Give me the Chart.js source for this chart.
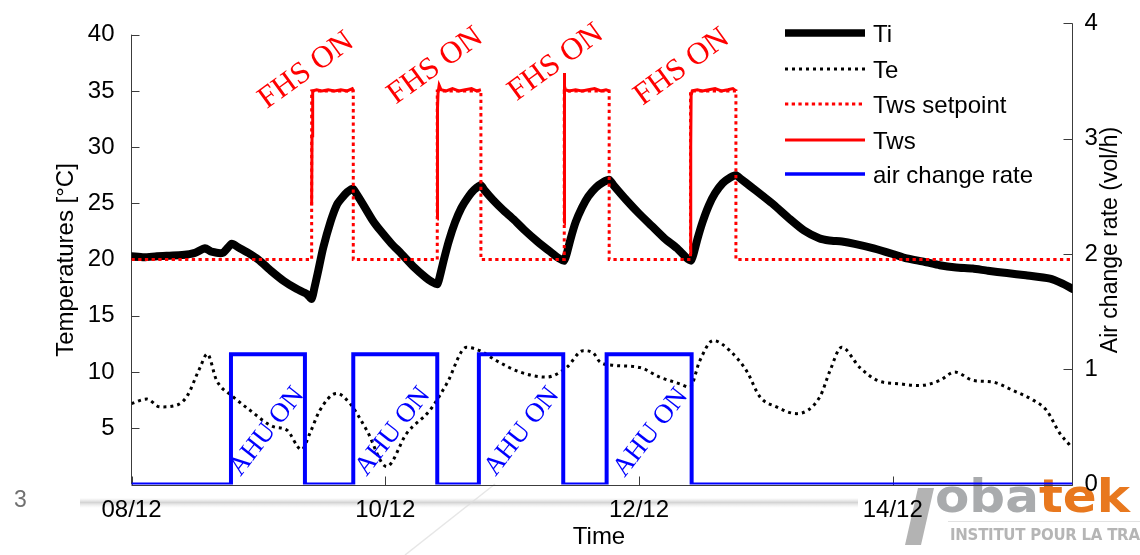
<!DOCTYPE html>
<html>
<head>
<meta charset="utf-8">
<script src="https://cdn.jsdelivr.net/npm/chart.js@4.4.1/dist/chart.umd.min.js"></script>
<style>
html,body{margin:0;padding:0;background:#fff;overflow:hidden}
canvas{display:block}
</style>
</head>
<body>
<canvas id="c" width="1140" height="555"></canvas>
<script>
// ---------- data (time in days since 08/12 00:00) ----------
const xTickDays   = [0, 2, 4, 6];
const xTickLabels = ['08/12', '10/12', '12/12', '14/12'];
const leftTicks   = [5, 10, 15, 20, 25, 30, 35, 40];
const rightTicks  = [0, 1, 2, 3, 4];
const seriesNames = ['Ti', 'Te', 'Tws setpoint', 'Tws', 'air change rate'];
const axisTitles  = {left: 'Temperatures [°C]', right: 'Air change rate (vol/h)', bottom: 'Time'};

const tiDays = [0.00,0.10,0.20,0.30,0.40,0.50,0.58,0.63,0.72,0.79,
                0.84,0.92,1.00,1.10,1.20,1.30,1.38,1.42,1.44,1.47,
                1.51,1.57,1.62,1.66,1.70,1.745,1.77,1.82,1.90,1.96,
                2.05,2.12,2.22,2.32,2.37,2.41,2.43,2.46,2.50,2.55,
                2.60,2.65,2.70,2.754,2.78,2.85,2.93,3.01,3.10,3.20,
                3.30,3.37,3.41,3.43,3.46,3.50,3.55,3.60,3.66,3.72,
                3.765,3.80,3.90,4.00,4.10,4.20,4.30,4.37,4.41,4.43,
                4.46,4.50,4.55,4.60,4.66,4.72,4.764,4.80,4.88,4.97,
                5.06,5.19,5.30,5.42,5.50,5.60,5.70,5.85,6.00,6.11,
                6.25,6.37,6.50,6.63,6.75,6.90,7.05,7.24,7.33,7.417];
const tiVals = [20.3,20.2,20.3,20.35,20.4,20.6,21.0,20.7,20.6,21.4,
                21.1,20.6,20.0,19.0,18.1,17.4,16.95,16.5,17.4,18.9,
                21.0,23.4,24.9,25.5,26.0,26.3,25.9,25.0,23.5,22.6,
                21.4,20.6,19.4,18.4,18.0,17.8,18.5,19.9,21.6,23.3,
                24.6,25.5,26.2,26.6,26.2,25.3,24.4,23.6,22.6,21.6,
                20.7,20.1,19.9,20.5,21.8,23.3,24.6,25.6,26.4,26.9,
                27.1,26.6,25.3,24.1,23.0,21.9,21.0,20.2,19.9,20.5,
                21.8,23.3,24.8,25.9,26.8,27.3,27.5,27.2,26.5,25.7,
                24.9,23.6,22.6,21.9,21.7,21.6,21.4,21.0,20.5,20.1,
                19.8,19.5,19.3,19.2,19.0,18.8,18.6,18.3,17.9,17.4];

const teDays = [0.00,0.12,0.225,0.356,0.435,0.54,0.597,0.671,0.802,0.934,
                1.117,1.223,1.341,1.406,1.485,1.617,1.722,1.853,2.011,2.169,
                2.352,2.484,2.641,2.746,2.878,3.062,3.272,3.429,3.56,3.639,
                3.692,3.797,4.007,4.164,4.322,4.401,4.479,4.585,4.716,4.848,
                4.953,5.084,5.242,5.426,5.505,5.597,5.741,5.879,6.056,6.213,
                6.371,6.489,6.634,6.791,6.949,7.107,7.212,7.317,7.396];
const teVals = [7.2,7.6,6.9,7.05,7.8,10.4,11.6,9.25,7.8,6.6,
                5.15,4.85,3.1,4.55,6.6,8.1,7.2,4.85,1.6,4.55,
                6.6,8.95,12.2,11.9,11.0,10.0,9.55,10.4,11.9,11.7,
                10.9,10.6,10.4,9.55,8.95,8.65,11.0,12.8,11.9,10.1,
                7.8,6.9,6.3,7.8,10.1,12.2,10.4,9.25,8.95,8.8,
                9.25,10.0,9.25,9.1,8.35,7.5,6.6,4.55,3.5];

const spDays = [0,1.42,1.42,1.748,1.748,2.41,2.41,2.754,2.754,3.411,
                3.411,3.765,3.765,4.406,4.406,4.764,4.764,7.417];
const spVals = [20,20,35,35,20,20,35,35,20,20,
                35,35,20,20,35,35,20,20];

const twsDays = [1.420,1.423,1.426,1.430,1.46,1.50,1.55,1.60,1.65,1.70,1.740,1.748,
                 2.0,
                 2.410,2.412,2.416,2.425,2.44,2.48,2.53,2.58,2.63,2.68,2.72,2.754,
                 3.0,
                 3.411,3.412,3.414,3.42,3.45,3.50,3.55,3.60,3.65,3.70,3.74,3.765,
                 4.0,
                 4.406,4.408,4.411,4.42,4.46,4.50,4.55,4.60,4.65,4.70,4.74,4.764];
const twsVals = [24.8,31.0,33.8,35.0,35.1,35.0,35.1,35.0,35.1,35.0,35.2,35.0,
                 null,
                 23.6,33.5,34.8,35.5,35.1,35.0,35.2,35.0,35.1,35.2,35.0,35.1,
                 null,
                 23.2,36.6,35.4,35.1,35.0,35.1,35.0,35.1,35.2,35.0,35.1,35.0,
                 null,
                 20.6,30.0,34.6,35.0,35.1,35.0,35.1,35.2,35.0,35.1,35.2,35.0];

const ahuDays = [0,0.784,0.784,1.367,1.367,1.748,1.748,2.41,2.41,2.738,
                 2.738,3.403,3.403,3.745,3.745,4.415,4.415,7.417];
const ahuVals = [0,0,1.13,1.13,0,0,1.13,1.13,0,0,
                 1.13,1.13,0,0,1.13,1.13,0,0];

// annotation anchors (days, left-axis °C / right-axis vol/h)
const fhsText = 'FHS ON';
const fhsLabelDays = [1.378, 2.394, 3.345, 4.338];
const fhsLabelVals = [36.8, 37.2, 37.5, 37.1];
const ahuText = 'AHU ON';
const ahuLabelDays = [1.068, 2.061, 3.078, 4.094];
const ahuLabelVals = [0.46, 0.46, 0.46, 0.45];

const pts = (xs, ys) => xs.map((x, i) => ({x: x, y: ys[i]}));

// ---------- plugin: axes, annotations, legend, slide decoration ----------
const SANS = '"Liberation Sans", Arial, Helvetica, sans-serif';
const SERIF = '"Liberation Serif", "Times New Roman", serif';

function seg(ctx, x1, y1, x2, y2) { ctx.beginPath(); ctx.moveTo(x1, y1); ctx.lineTo(x2, y2); ctx.stroke(); }

const deco = {
  id: 'deco',
  beforeDraw(chart) {
    const ctx = chart.ctx;
    ctx.save();
    ctx.fillStyle = '#fff';
    ctx.fillRect(0, 0, chart.width, chart.height);
    // soft grey slide line under the axis
    const g = ctx.createLinearGradient(0, 498, 0, 508);
    g.addColorStop(0, 'rgba(220,220,220,0)');
    g.addColorStop(0.45, 'rgba(212,212,212,1)');
    g.addColorStop(1, 'rgba(235,235,235,0)');
    ctx.fillStyle = g;
    ctx.fillRect(80, 498, 778, 10);
    // faint diagonal
    ctx.strokeStyle = 'rgba(220,220,220,0.7)'; ctx.lineWidth = 1.5;
    seg(ctx, 405, 555, 495, 484);
    // page number
    ctx.fillStyle = '#707070';
    ctx.font = '23px ' + SANS;
    ctx.textAlign = 'left'; ctx.textBaseline = 'middle';
    ctx.fillText('3', 14, 501);
    // logo
    ctx.fillStyle = '#b3b3b3';
    ctx.beginPath();
    ctx.moveTo(918, 488); ctx.lineTo(934, 488); ctx.lineTo(921, 545); ctx.lineTo(905, 545); ctx.closePath(); ctx.fill();
    ctx.font = 'bold 47px "DejaVu Sans", sans-serif';
    ctx.textBaseline = 'alphabetic';
    const wOba = ctx.measureText('oba').width, wTek = ctx.measureText('tek').width;
    const sx = 195 / (wOba + wTek);
    ctx.save(); ctx.translate(935, 512); ctx.scale(sx, 1);
    ctx.fillStyle = '#a9abad'; ctx.fillText('oba', 0, 0);
    ctx.fillStyle = '#e8781e'; ctx.fillText('tek', wOba, 0);
    ctx.restore();
    ctx.strokeStyle = '#e2e2e2'; ctx.lineWidth = 1;
    seg(ctx, 948, 521.5, 1140, 521.5);
    ctx.font = 'bold 15px "DejaVu Sans", sans-serif';
    const w20 = ctx.measureText('INSTITUT POUR LA TRA').width;
    ctx.save(); ctx.translate(950, 540);
    ctx.fillStyle = '#b5b5b5';
    let xx = 0; const extra = (190 - w20) / 19;
    for (const ch of 'INSTITUT POUR LA TRANSITION') { ctx.fillText(ch, xx, 0); xx += ctx.measureText(ch).width + extra; }
    ctx.restore();
    ctx.restore();
  },
  beforeDatasetsDraw(chart) {
    const ctx = chart.ctx, a = chart.chartArea;
    const ys = chart.scales.y, y2 = chart.scales.y2, xs = chart.scales.x;
    ctx.save();
    ctx.strokeStyle = '#3c3c3c'; ctx.lineWidth = 1;
    const L = Math.round(a.left) + 0.5 - 1, R = Math.round(a.right) - 0.5, B = Math.round(a.bottom) + 0.5;
    seg(ctx, L, ys.getPixelForValue(0), L, ys.getPixelForValue(40));
    seg(ctx, L, B, R, B);
    seg(ctx, R, a.top, R, B);
    leftTicks.forEach(v => { const p = Math.round(ys.getPixelForValue(v)) + 0.5; seg(ctx, L, p, L + 8, p); });
    rightTicks.forEach(v => { const p = Math.round(y2.getPixelForValue(v)) + 0.5; seg(ctx, R - 9, p, R, p); });
    xTickDays.forEach(v => { const p = Math.round(xs.getPixelForValue(v)) + 0.5; seg(ctx, p, B, p, B - 9); });
    ctx.restore();
  },
  afterDatasetsDraw(chart) {
    const ctx = chart.ctx;
    const ys = chart.scales.y, y2 = chart.scales.y2, xs = chart.scales.x;
    ctx.save();
    ctx.textAlign = 'center'; ctx.textBaseline = 'middle';
    // FHS ON
    ctx.font = '31px ' + SERIF; ctx.fillStyle = '#ff0000';
    fhsLabelDays.forEach((d, i) => {
      ctx.save(); ctx.translate(xs.getPixelForValue(d), ys.getPixelForValue(fhsLabelVals[i]));
      ctx.rotate(-36 * Math.PI / 180); ctx.fillText(fhsText, 0, 0); ctx.restore();
    });
    // AHU ON
    ctx.font = '27px ' + SERIF; ctx.fillStyle = '#0000ff';
    ahuLabelDays.forEach((d, i) => {
      ctx.save(); ctx.translate(xs.getPixelForValue(d), y2.getPixelForValue(ahuLabelVals[i]));
      ctx.rotate(-52 * Math.PI / 180); ctx.fillText(ahuText, 0, 0); ctx.restore();
    });
    // axis titles
    ctx.fillStyle = '#000';
    ctx.font = '24px ' + SANS;
    ctx.save(); ctx.translate(66, 260); ctx.rotate(-Math.PI / 2); ctx.fillText(axisTitles.left, 0, 0); ctx.restore();
    ctx.font = '23px ' + SANS;
    ctx.save(); ctx.translate(1111, 240); ctx.rotate(-Math.PI / 2); ctx.fillText(axisTitles.right, 0, 0); ctx.restore();
    ctx.font = '24px ' + SANS;
    ctx.fillText(axisTitles.bottom, 599, 537);
    // legend
    const rows = [33, 69, 104, 140, 174];
    ctx.textAlign = 'left';
    chart.data.datasets.forEach((ds, i) => {
      const y = rows[i];
      ctx.save();
      ctx.strokeStyle = ds.borderColor; ctx.lineWidth = ds.legendWidth;
      ctx.setLineDash(ds.borderDash || []);
      ctx.lineCap = 'butt';
      seg(ctx, 785, y, 865, y);
      ctx.restore();
      ctx.fillStyle = '#000'; ctx.font = '24px ' + SANS;
      ctx.fillText(ds.label, 873, y + 2);
    });
    ctx.restore();
  }
};

new Chart(document.getElementById('c'), {
  type: 'line',
  data: {
    datasets: [
      {label: seriesNames[0], data: pts(tiDays, tiVals), yAxisID: 'y', borderColor: '#000', borderWidth: 8,
       legendWidth: 7.5, borderJoinStyle: 'round', borderCapStyle: 'round', tension: 0.2, order: 5},
      {label: seriesNames[1], data: pts(teDays, teVals), yAxisID: 'y', borderColor: '#000', borderWidth: 3,
       legendWidth: 3, borderDash: [3, 4], cubicInterpolationMode: 'monotone', order: 4},
      {label: seriesNames[2], data: pts(spDays, spVals), yAxisID: 'y', borderColor: '#ff0000', borderWidth: 3,
       legendWidth: 3, borderDash: [3.3, 3.4], tension: 0, order: 3},
      {label: seriesNames[3], data: pts(twsDays, twsVals), yAxisID: 'y', borderColor: '#ff0000', borderWidth: 3,
       legendWidth: 3, tension: 0, spanGaps: false, order: 2},
      {label: seriesNames[4], data: pts(ahuDays, ahuVals), yAxisID: 'y2', borderColor: '#0000ff', borderWidth: 4,
       legendWidth: 3.5, tension: 0, order: 1}
    ]
  },
  options: {
    responsive: false,
    animation: false,
    devicePixelRatio: 1,
    layout: {padding: {top: 20, left: 0, right: 0, bottom: 0}},
    plugins: {legend: {display: false}, tooltip: {enabled: false}},
    elements: {point: {radius: 0, hoverRadius: 0}, line: {fill: false}},
    scales: {
      x: {
        type: 'linear', position: 'bottom', min: 0, max: 7.417,
        grid: {display: false}, border: {display: false},
        afterBuildTicks: s => { s.ticks = xTickDays.map(v => ({value: v})); },
        afterFit: s => { s.height = 70.5; },
        ticks: {
          font: {family: SANS, size: 24}, color: '#000', padding: 3, maxRotation: 0, autoSkip: false,
          callback: v => { const i = xTickDays.indexOf(v); return i >= 0 ? xTickLabels[i] : ''; }
        }
      },
      y: {
        type: 'linear', position: 'left', min: 0, max: 41.0,
        grid: {display: false}, border: {display: false},
        afterBuildTicks: s => { s.ticks = leftTicks.map(v => ({value: v})); },
        afterFit: s => { s.width = 131.5; },
        ticks: {font: {family: SANS, size: 24}, color: '#000', padding: 9}
      },
      y2: {
        type: 'linear', position: 'right', min: 0, max: 4,
        grid: {display: false}, border: {display: false},
        afterBuildTicks: s => { s.ticks = rightTicks.map(v => ({value: v})); },
        afterFit: s => { s.width = 67.5; },
        ticks: {font: {family: SANS, size: 24}, color: '#000', padding: 4}
      }
    }
  },
  plugins: [deco]
});
</script>
</body>
</html>
